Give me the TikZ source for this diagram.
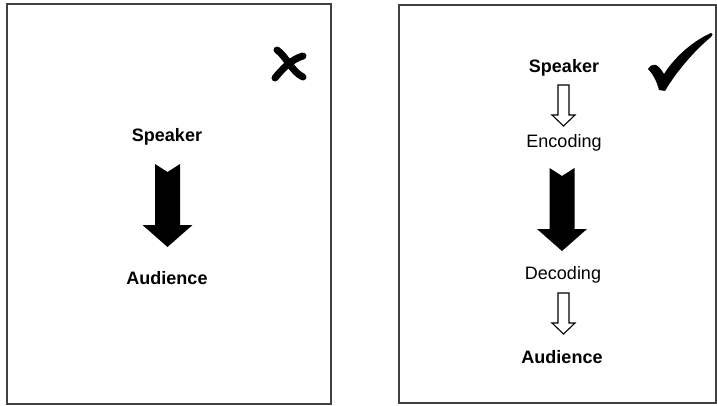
\documentclass[tikz,border=0pt]{standalone}
\usepackage{fontspec}
\setmainfont{Liberation Sans}
\begin{document}
\begin{tikzpicture}[x=1pt,y=-1pt,
  panel/.style={draw=black!75, line width=1.6pt},
  lbl/.style={font=\fontsize{18}{20}\selectfont, inner sep=0pt},
  blbl/.style={lbl, font=\fontsize{18}{20}\selectfont\bfseries},
  bigarrow/.pic={\fill[black] (-12.5,-41) -- (0,-33) -- (12.5,-41) -- (12.5,20) -- (25,20) -- (0,42) -- (-25,20) -- (-12.5,20) -- cycle;},
  openarrow/.pic={\draw[black, line width=1.1pt, line join=miter, fill=white] (-5.5,-20) -- (5.5,-20) -- (5.5,10) -- (11.5,10) -- (0,21) -- (-11.5,10) -- (-5.5,10) -- cycle;}
]
\useasboundingbox (0,0) rectangle (717,406);
% panels
\draw[panel] (7,4) rectangle (331,404);
\draw[panel] (399,5) -- (716,5) -- (716,403) -- (399,403) -- cycle;

% left panel
\node[blbl] (ls) at (167,137) {Speaker};
\node[blbl] (la) at (167,278) {Audience};
\pic at (167.5,205) {bigarrow};
% cross mark
\draw[black, line width=7pt, line cap=round] (277,50) .. controls (286,56) and (292,72) .. (303,77);
\draw[black, line width=7pt, line cap=round] (303,56) .. controls (292,59) and (283,68) .. (275,78);

% right panel
\node[blbl] (rs) at (564,68) {Speaker};
\node[lbl] (re) at (564,143) {Encoding};
\node[lbl] (rd) at (563,275) {Decoding};
\node[blbl] (ra) at (562,357) {Audience};
\pic at (563.5,105) {openarrow};
\pic at (562,209) {bigarrow};
\pic at (563.5,313) {openarrow};
% check mark
\fill[black] (648,69) .. controls (652,63) and (657,62) .. (664,74)
  .. controls (676,55) and (695,40) .. (711,33)
  .. controls (713,34) .. (711,37)
  .. controls (695,50) and (676,72) .. (665,91)
  -- (659,90) .. controls (657,82) and (653,74) .. (648,69) -- cycle;
\end{tikzpicture}
\end{document}
